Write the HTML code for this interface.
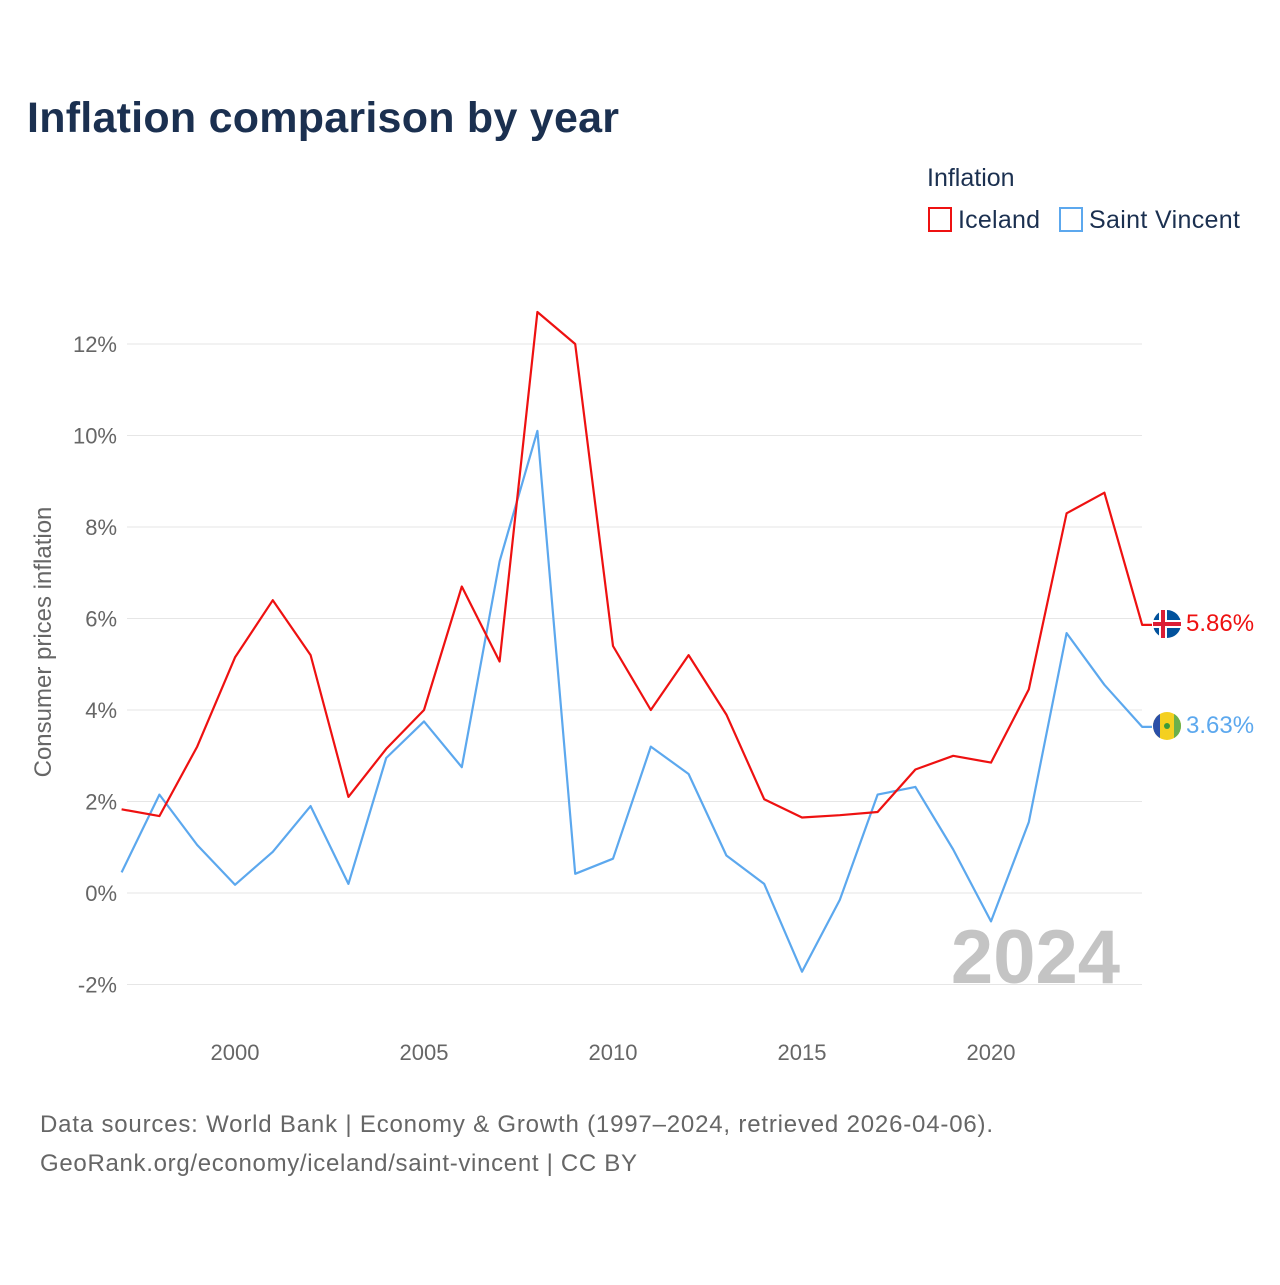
<!DOCTYPE html>
<html><head><meta charset="utf-8"><style>
body{margin:0;background:#fff;width:1280px;height:1280px;overflow:hidden;font-family:"Liberation Sans",sans-serif}
</style></head><body>
<svg width="1280" height="1280" xmlns="http://www.w3.org/2000/svg" id="chart">
<defs><clipPath id="fc"><circle cx="1167" cy="726" r="14"/></clipPath></defs>
<text x="27" y="132" font-size="43" font-weight="bold" fill="#1b3050" textLength="592">Inflation comparison by year</text>
<text x="927" y="186" font-size="25" fill="#1b3050">Inflation</text>
<g><rect x="929" y="208" width="22" height="23" fill="none" stroke="#ee1111" stroke-width="2"/><text x="958" y="228" font-size="25" fill="#1b3050" textLength="82">Iceland</text></g>
<g><rect x="1060" y="208" width="22" height="23" fill="none" stroke="#5ca8ee" stroke-width="2"/><text x="1089" y="228" font-size="25" fill="#1b3050" textLength="151">Saint Vincent</text></g>
<g id="grid"></g>
<g id="ylabels"></g>
<g id="xlabels"></g>
<text transform="translate(51,642) rotate(-90)" text-anchor="middle" font-size="24" fill="#666">Consumer prices inflation</text>
<text x="1120" y="983" text-anchor="end" font-size="76" font-weight="bold" fill="#c4c4c4">2024</text>
<g id="series"></g>
<g><circle cx="1167" cy="624" r="14" fill="#02529c"/><rect x="1153" y="620" width="28" height="8" fill="#fff"/><rect x="1159" y="610" width="8" height="28" fill="#fff"/><rect x="1153" y="622" width="28" height="4" fill="#dc1e35"/><rect x="1161" y="610" width="4" height="28" fill="#dc1e35"/></g>
<g clip-path="url(#fc)"><rect x="1153" y="712" width="28" height="28" fill="#f4d020"/><rect x="1153" y="712" width="7" height="28" fill="#2a4fa8"/><rect x="1174" y="712" width="7" height="28" fill="#6ab04c"/><circle cx="1167" cy="726" r="3" fill="#3a9a3a"/></g>
<text x="1186" y="631" font-size="24" fill="#ee1111">5.86%</text>
<text x="1186" y="733" font-size="24" fill="#5ca8ee">3.63%</text>
<text x="40" y="1132" font-size="24" fill="#666" textLength="953">Data sources: World Bank | Economy &amp; Growth (1997–2024, retrieved 2026-04-06).</text>
<text x="40" y="1171" font-size="24" fill="#666" textLength="597">GeoRank.org/economy/iceland/saint-vincent | CC BY</text>
</svg>
<script>
const years=[1997,1998,1999,2000,2001,2002,2003,2004,2005,2006,2007,2008,2009,2010,2011,2012,2013,2014,2015,2016,2017,2018,2019,2020,2021,2022,2023,2024];
const iceland=[1.83,1.68,3.2,5.15,6.4,5.2,2.1,3.15,4.0,6.7,5.06,12.7,12.0,5.4,4.0,5.2,3.9,2.05,1.65,1.7,1.77,2.7,3.0,2.85,4.45,8.3,8.75,5.86];
const saintVincent=[0.45,2.15,1.05,0.18,0.9,1.9,0.2,2.95,3.75,2.75,7.25,10.1,0.42,0.75,3.2,2.6,0.82,0.2,-1.72,-0.15,2.15,2.32,0.95,-0.62,1.55,5.68,4.55,3.63];
const yTicks=[-2,0,2,4,6,8,10,12];
const xTicks=[2000,2005,2010,2015,2020];
const NS="http://www.w3.org/2000/svg";
function X(y){return 121.6+(y-1997)*37.8;}
function Y(v){return 893-v*45.75;}
function mk(t,a,p){const e=document.createElementNS(NS,t);for(const k in a)e.setAttribute(k,a[k]);p.appendChild(e);return e;}
const grid=document.getElementById('grid'),yl=document.getElementById('ylabels'),xl=document.getElementById('xlabels'),ser=document.getElementById('series');
yTicks.forEach(v=>{
 const l=mk('line',{x1:127,x2:1142,y1:Y(v),y2:Y(v),stroke:'#e6e6e6','stroke-width':1},grid);
 
 
 const t=mk('text',{x:117,y:Y(v)+8,'text-anchor':'end','font-size':22,fill:'#666'},yl);
 t.textContent=v+'%';
 
 
});
xTicks.forEach(y=>{
 const t=mk('text',{x:X(y),y:1060,'text-anchor':'middle','font-size':22,fill:'#666'},xl);
 t.textContent=y;
 
 
});
function line(vals,col,name){
 let d=vals.map((v,i)=>(i?'L':'M')+X(years[i]).toFixed(1)+' '+Y(v).toFixed(1)).join(' ');
 d+=' L1152 '+Y(vals[vals.length-1]).toFixed(1);
 const p=mk('path',{d:d,fill:'none',stroke:col,'stroke-width':2.2,'stroke-linejoin':'round'},ser);
 
 
}
line(saintVincent,'#5ca8ee','saint-vincent-line');
line(iceland,'#ee1111','iceland-line');
</script>
</body></html>
